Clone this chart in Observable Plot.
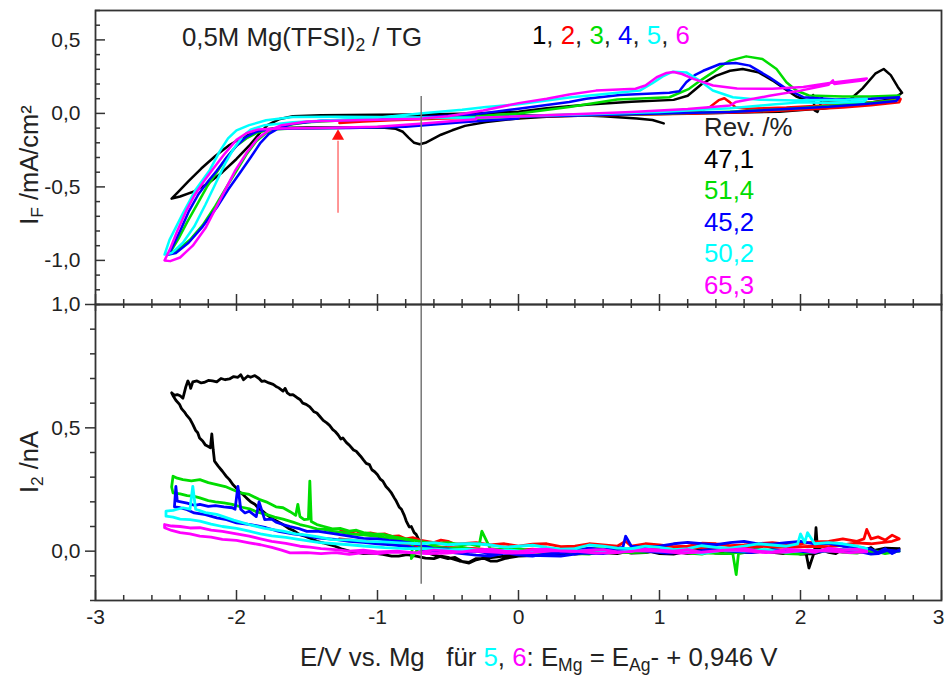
<!DOCTYPE html>
<html><head><meta charset="utf-8">
<script src="https://cdn.jsdelivr.net/npm/d3@7"></script>
<script src="https://cdn.jsdelivr.net/npm/@observablehq/plot@0.6"></script>
<style>
body{margin:0;background:#fff;}
#wrap{position:relative;width:945px;height:679px;overflow:hidden;font-family:Arial,"Liberation Sans",sans-serif;color:#222;}
#wrap svg{position:absolute;left:0;}
.t{position:absolute;white-space:nowrap;font-size:25.8px;line-height:1;}
.t sub{font-size:0.68em;vertical-align:-0.28em;line-height:0;}
.rot{transform:translate(-50%,-50%) rotate(-90deg);}
</style></head><body><div id="wrap"></div>
<script>
// ---------- series names / colours ----------
const seriesNames = ["1","2","3","4","5","6"];
const seriesColors = ["#000000","#ff0000","#00dd00","#0000ff","#00ffff","#ff00ff"];
const revLabels = ["47,1","51,4","45,2","50,2","65,3"];
const revColors = ["#000000","#00dd00","#0000ff","#00ffff","#ff00ff"];

// ---------- upper panel: I_F (mA/cm²) vs E (V) ----------
const cv1 = [[1.03,-0.068],[0.95,-0.045],[0.84,-0.034],[0.6,-0.02],[0.48,-0.015],[0.2,-0.022],[0.0,-0.034],[-0.23,-0.058],[-0.38,-0.085],[-0.47,-0.115],[-0.55,-0.145],[-0.61,-0.175],[-0.66,-0.2],[-0.7,-0.21],[-0.74,-0.2],[-0.78,-0.165],[-0.82,-0.125],[-0.87,-0.105],[-0.95,-0.098],[-1.2,-0.096],[-1.5,-0.096],[-1.7,-0.1],[-1.8,-0.11],[-1.88,-0.13],[-1.96,-0.165],[-2.05,-0.215],[-2.15,-0.29],[-2.25,-0.375],[-2.34,-0.46],[-2.42,-0.54],[-2.46,-0.58],
 [-2.4,-0.565],[-2.3,-0.53],[-2.2,-0.475],[-2.1,-0.4],[-2.0,-0.31],[-1.91,-0.22],[-1.84,-0.14],[-1.78,-0.08],[-1.7,-0.04],[-1.6,-0.02],[-1.4,-0.013],[-1.0,-0.01],[-0.7,-0.008],[-0.3,0.0],[0.0,0.012],[0.2,0.035],[0.5,0.06],[0.8,0.08],[1.1,0.092],[1.2,0.12],[1.3,0.2],[1.4,0.255],[1.5,0.29],[1.59,0.302],[1.7,0.28],[1.8,0.225],[1.9,0.16],[1.97,0.115],[2.04,0.09],[2.08,0.086],[2.09,0.125],[2.1,0.02],[2.12,0.01],[2.14,0.05],[2.15,0.11],[2.16,0.088],[2.2,0.088],[2.35,0.093],[2.44,0.17],[2.53,0.27],[2.59,0.302],[2.64,0.26],[2.69,0.18],[2.72,0.14],
 [2.66,0.1],[2.5,0.075],[2.3,0.05],[2.15,0.032],[2.1,0.03],[1.85,0.012],[1.4,0.003],[1.0,-0.004],[0.5,-0.01],[0.0,-0.014],[-0.5,-0.015],[-0.9,-0.015]];
const cv2 = [[-1.27,-0.065],[-1.1,-0.055],[-0.9,-0.047],[-0.7,-0.04],[-0.4,-0.032],[0.0,-0.022],[0.4,-0.01],[0.8,0.0],[1.2,0.012],[1.3,0.02],[1.36,0.045],[1.42,0.09],[1.46,0.103],[1.5,0.075],[1.54,0.04],[1.62,0.032],[1.9,0.04],[2.1,0.05],[2.4,0.068],[2.6,0.082],[2.71,0.098],
 [2.7,0.075],[2.5,0.055],[2.3,0.04],[2.0,0.025],[1.6,0.008],[1.2,-0.003],[0.8,-0.01],[0.3,-0.018],[-0.2,-0.028],[-0.7,-0.038],[-1.0,-0.045],[-1.27,-0.055]];
const cv3 = [[0.0,-0.03],[-0.5,-0.06],[-0.9,-0.09],[-1.3,-0.1],[-1.6,-0.102],[-1.76,-0.11],[-1.85,-0.13],[-1.93,-0.17],[-2.0,-0.22],[-2.07,-0.3],[-2.14,-0.4],[-2.21,-0.5],[-2.28,-0.62],[-2.35,-0.74],[-2.41,-0.85],[-2.46,-0.93],[-2.48,-0.95],
 [-2.42,-0.93],[-2.33,-0.86],[-2.24,-0.76],[-2.15,-0.63],[-2.07,-0.5],[-2.0,-0.39],[-1.93,-0.28],[-1.86,-0.19],[-1.8,-0.14],[-1.74,-0.11],[-1.65,-0.08],[-1.5,-0.06],[-1.2,-0.045],[-0.7,-0.035],[-0.3,-0.02],[0.0,0.0],[0.36,0.043],[0.7,0.095],[1.07,0.11],[1.21,0.167],[1.3,0.23],[1.378,0.279],[1.45,0.33],[1.5,0.359],[1.615,0.388],[1.73,0.37],[1.83,0.302],[1.9,0.212],[1.97,0.156],[2.06,0.122],[2.3,0.115],[2.5,0.115],[2.7,0.122],
 [2.68,0.09],[2.5,0.075],[2.2,0.05],[1.9,0.03],[1.5,0.012],[1.0,-0.002],[0.5,-0.012],[0.0,-0.02]];
const cv4 = [[0.0,-0.035],[-0.4,-0.06],[-0.8,-0.09],[-1.2,-0.1],[-1.6,-0.102],[-1.78,-0.108],[-1.86,-0.125],[-1.93,-0.16],[-2.0,-0.22],[-2.07,-0.3],[-2.14,-0.39],[-2.2,-0.46],[-2.27,-0.55],[-2.34,-0.67],[-2.4,-0.8],[-2.45,-0.9],[-2.48,-0.96],
 [-2.43,-0.95],[-2.34,-0.88],[-2.24,-0.77],[-2.14,-0.64],[-2.06,-0.52],[-1.98,-0.41],[-1.9,-0.3],[-1.83,-0.2],[-1.77,-0.14],[-1.7,-0.1],[-1.6,-0.07],[-1.4,-0.05],[-1.0,-0.04],[-0.7,-0.027],[-0.3,-0.005],[0.0,0.032],[0.36,0.077],[0.48,0.1],[0.72,0.125],[1.07,0.14],[1.14,0.15],[1.19,0.212],[1.25,0.26],[1.31,0.29],[1.43,0.336],[1.54,0.343],[1.64,0.325],[1.78,0.246],[1.9,0.167],[2.02,0.11],[2.25,0.095],[2.5,0.1],[2.7,0.11],
 [2.68,0.085],[2.5,0.068],[2.2,0.045],[1.9,0.03],[1.5,0.01],[1.0,0.0],[0.5,-0.012],[0.0,-0.022]];
const cv5 = [[-0.3,-0.03],[-0.7,-0.028],[-1.0,-0.025],[-1.3,-0.022],[-1.6,-0.025],[-1.79,-0.047],[-1.91,-0.08],[-2.0,-0.115],[-2.06,-0.17],[-2.12,-0.26],[-2.19,-0.386],[-2.29,-0.52],[-2.38,-0.68],[-2.475,-0.86],[-2.51,-0.96],
 [-2.46,-0.95],[-2.38,-0.88],[-2.3,-0.77],[-2.22,-0.62],[-2.15,-0.48],[-2.08,-0.34],[-2.02,-0.24],[-1.96,-0.16],[-1.9,-0.11],[-1.8,-0.08],[-1.6,-0.06],[-1.3,-0.045],[-1.0,-0.03],[-0.7,0.0],[-0.4,0.025],[-0.23,0.043],[0.0,0.062],[0.36,0.108],[0.72,0.142],[0.86,0.155],[0.95,0.205],[1.02,0.25],[1.094,0.284],[1.19,0.279],[1.284,0.223],[1.378,0.156],[1.52,0.11],[1.71,0.093],[1.97,0.088],[2.03,0.09],[2.32,0.093],[2.47,0.098],
 [2.45,0.08],[2.2,0.07],[2.0,0.075],[1.8,0.06],[1.5,0.035],[1.0,0.01],[0.5,-0.005],[0.0,-0.02],[-0.3,-0.03]];
const cv6 = [[-0.3,-0.04],[-0.7,-0.07],[-1.0,-0.09],[-1.4,-0.1],[-1.7,-0.103],[-1.85,-0.11],[-1.93,-0.135],[-2.0,-0.18],[-2.08,-0.27],[-2.16,-0.37],[-2.23,-0.46],[-2.3,-0.56],[-2.36,-0.67],[-2.42,-0.8],[-2.47,-0.92],[-2.51,-1.0],
 [-2.47,-1.005],[-2.4,-0.98],[-2.31,-0.9],[-2.22,-0.78],[-2.15,-0.65],[-2.08,-0.52],[-2.01,-0.39],[-1.93,-0.27],[-1.85,-0.17],[-1.77,-0.115],[-1.68,-0.08],[-1.5,-0.055],[-1.1,-0.045],[-0.7,-0.036],[-0.5,-0.02],[-0.25,0.02],[0.0,0.07],[0.2,0.1],[0.36,0.128],[0.55,0.155],[0.83,0.168],[0.9,0.19],[0.98,0.246],[1.05,0.275],[1.1,0.282],[1.16,0.268],[1.24,0.235],[1.38,0.19],[1.55,0.17],[1.8,0.167],[2.02,0.18],[2.23,0.21],[2.47,0.238],
 [2.45,0.225],[2.24,0.2],[2.23,0.225],[2.2,0.195],[2.0,0.155],[1.78,0.12],[1.54,0.077],[1.5,0.054],[1.2,0.03],[0.8,0.01],[0.3,-0.01],[-0.3,-0.03]];

// ---------- lower panel: I_2 (nA) vs E (V) ----------
const ring1 = [[2.7,0.01],[2.65,0.0],[2.6,0.005],[2.55,-0.008],[2.5,0.015],[2.45,0.002],[2.4,0.0],[2.35,0.01],[2.3,0.008],[2.25,-0.01],[2.2,-0.005],[2.12,0.01],[2.11,0.095],[2.1,0.0],[2.06,-0.068],[2.04,-0.01],[1.95,0.0],[1.88,-0.01],[1.8,-0.005],[1.7,0.006],[1.6,0.004],[1.5,-0.01],[1.4,-0.008],[1.3,0.004],[1.2,0.0],[1.1,-0.012],[1.0,-0.01],[0.9,0.003],[0.8,0.002],[0.7,-0.01],[0.6,-0.006],[0.5,0.004],[0.4,0.0],[0.3,-0.014],[0.2,-0.012],[0.1,-0.018],[0.0,-0.02],[-0.1,-0.03],[-0.15,-0.04],[-0.2,-0.04],[-0.25,-0.028],[-0.3,-0.035],[-0.35,-0.048],[-0.4,-0.042],[-0.45,-0.025],[-0.5,-0.03],[-0.6,-0.015],[-0.68,0.0],
 [-0.7,0.03],[-0.71,0.05],[-0.726,0.068],[-0.74,0.075],[-0.76,0.1],[-0.775,0.098],[-0.796,0.122],[-0.81,0.145],[-0.83,0.17],[-0.845,0.178],[-0.867,0.203],[-0.88,0.215],[-0.9,0.235],[-0.92,0.25],[-0.94,0.262],[-0.962,0.284],[-0.98,0.292],[-1.0,0.31],[-1.02,0.322],[-1.04,0.33],[-1.057,0.351],[-1.08,0.356],[-1.1,0.37],[-1.12,0.385],[-1.151,0.405],[-1.17,0.41],[-1.2,0.43],[-1.22,0.44],[-1.246,0.459],[-1.26,0.455],[-1.28,0.472],[-1.3,0.485],[-1.317,0.493],[-1.34,0.51],[-1.36,0.52],[-1.385,0.53],[-1.41,0.547],[-1.43,0.56],[-1.45,0.565],[-1.48,0.585],[-1.506,0.595],[-1.53,0.6],[-1.55,0.615],[-1.57,0.622],[-1.6,0.635],[-1.62,0.634],[-1.64,0.642],[-1.655,0.66],[-1.67,0.649],[-1.7,0.662],[-1.72,0.668],[-1.74,0.676],[-1.77,0.682],[-1.8,0.69],[-1.82,0.688],[-1.84,0.7],[-1.87,0.712],[-1.9,0.705],[-1.92,0.71],[-1.95,0.695],[-1.97,0.715],[-1.99,0.705],[-2.02,0.708],[-2.05,0.698],[-2.08,0.695],[-2.11,0.7],[-2.14,0.686],[-2.17,0.69],[-2.2,0.692],[-2.23,0.684],[-2.25,0.682],[-2.28,0.69],[-2.31,0.686],[-2.325,0.66],[-2.33,0.672],[-2.345,0.69],[-2.36,0.665],[-2.38,0.62],[-2.4,0.63],[-2.42,0.635],[-2.44,0.632],[-2.46,0.642],
 [-2.45,0.63],[-2.43,0.612],[-2.404,0.595],[-2.39,0.578],[-2.37,0.565],[-2.357,0.554],[-2.33,0.535],[-2.31,0.514],[-2.29,0.49],[-2.275,0.48],[-2.262,0.459],[-2.24,0.447],[-2.22,0.43],[-2.2,0.424],[-2.185,0.419],[-2.175,0.475],[-2.165,0.41],[-2.156,0.365],[-2.13,0.345],[-2.1,0.324],[-2.075,0.305],[-2.05,0.29],[-2.026,0.27],[-2.0,0.255],[-1.98,0.24],[-1.95,0.228],[-1.93,0.216],[-1.9,0.2],[-1.87,0.19],[-1.84,0.172],[-1.813,0.162],[-1.78,0.145],[-1.74,0.13],[-1.7,0.117],[-1.67,0.108],[-1.63,0.092],[-1.6,0.085],[-1.553,0.068],[-1.51,0.06],[-1.47,0.05],[-1.43,0.04],[-1.388,0.034],[-1.34,0.026],[-1.3,0.02],[-1.25,0.008],[-1.2,0.0],[-1.15,-0.004],[-1.1,-0.01],[-1.03,-0.008],[-0.962,-0.013],[-0.9,-0.02],[-0.85,-0.02],[-0.79,-0.014],[-0.726,-0.02],[-0.66,-0.028],[-0.6,-0.03],[-0.55,-0.02],[-0.5,-0.025],[-0.42,-0.04],[-0.35,-0.045],[-0.3,-0.03],[-0.25,-0.03],[-0.18,-0.025],[-0.1,-0.02],[0.0,-0.012],[0.1,-0.01],[0.2,-0.002],[0.3,0.0],[0.4,-0.012],[0.5,-0.008],[0.6,0.002],[0.7,0.004],[0.8,-0.008],[0.9,-0.006],[1.0,0.004],[1.1,0.0],[1.2,-0.01],[1.3,-0.004],[1.4,0.006],[1.5,0.005],[1.6,-0.006],[1.7,-0.003],[1.8,0.006],[1.9,0.002],[2.0,-0.012],[2.1,-0.01],[2.2,0.006],[2.3,0.004],[2.4,-0.004],[2.5,0.0],[2.6,0.012],[2.7,0.01]];
const ring2 = [[-1.27,0.09],[-1.23,0.078],[-1.2,0.075],[-1.15,0.082],[-1.1,0.07],[-1.05,0.074],[-1.0,0.068],[-0.95,0.07],[-0.9,0.06],[-0.85,0.062],[-0.8,0.05],[-0.75,0.055],[-0.7,0.045],[-0.65,0.04],[-0.6,0.035],[-0.55,0.045],[-0.5,0.04],[-0.45,0.028],[-0.4,0.03],[-0.3,0.035],[-0.2,0.025],[-0.1,0.03],[0.0,0.02],[0.1,0.028],[0.2,0.03],[0.3,0.018],[0.4,0.02],[0.5,0.03],[0.6,0.025],[0.7,0.02],[0.76,0.04],[0.8,0.02],[0.9,0.03],[1.0,0.025],[1.1,0.018],[1.2,0.02],[1.3,0.032],[1.4,0.03],[1.5,0.022],[1.6,0.025],[1.7,0.03],[1.8,0.035],[1.9,0.028],[2.0,0.03],[2.1,0.038],[2.2,0.04],[2.3,0.05],[2.4,0.04],[2.45,0.05],[2.47,0.088],[2.5,0.05],[2.55,0.058],[2.6,0.045],[2.65,0.065],[2.7,0.05],
 [2.65,0.04],[2.5,0.03],[2.4,0.034],[2.3,0.025],[2.2,0.018],[2.1,0.02],[1.9,0.015],[1.7,0.02],[1.5,0.01],[1.3,0.015],[1.1,0.005],[0.9,0.012],[0.7,0.005],[0.5,0.01],[0.3,0.0],[0.1,0.008],[-0.1,0.0],[-0.3,0.01],[-0.5,0.015],[-0.7,0.02],[-0.9,0.03],[-1.1,0.04],[-1.27,0.05]];
const ring3 = [[2.7,0.0],[2.6,-0.01],[2.5,0.005],[2.4,-0.008],[2.3,-0.005],[2.2,0.006],[2.1,0.0],[2.0,-0.012],[1.9,-0.01],[1.8,0.004],[1.7,0.005],[1.6,-0.006],[1.56,-0.01],[1.544,-0.095],[1.52,-0.01],[1.45,0.004],[1.4,0.0],[1.3,-0.012],[1.2,-0.008],[1.1,0.004],[1.0,0.0],[0.9,0.006],[0.8,0.012],[0.7,-0.004],[0.6,0.0],[0.5,-0.012],[0.4,-0.01],[0.3,0.002],[0.2,-0.005],[0.1,-0.012],[0.0,-0.01],[-0.1,0.004],[-0.2,0.01],[-0.26,0.081],[-0.28,0.02],[-0.35,0.03],[-0.4,0.025],[-0.5,0.035],[-0.6,0.03],[-0.7,0.04],
 [-0.8,0.05],[-0.88,0.058],[-0.96,0.068],[-1.03,0.07],[-1.1,0.075],[-1.15,0.085],[-1.2,0.081],[-1.26,0.092],[-1.32,0.09],[-1.38,0.1],[-1.43,0.108],[-1.47,0.12],[-1.48,0.284],[-1.49,0.13],[-1.52,0.128],[-1.55,0.14],[-1.565,0.19],[-1.58,0.145],[-1.62,0.16],[-1.67,0.176],[-1.72,0.18],[-1.79,0.2],[-1.84,0.21],[-1.91,0.23],[-1.97,0.236],[-2.03,0.25],[-2.08,0.262],[-2.14,0.27],[-2.2,0.278],[-2.26,0.29],[-2.32,0.285],[-2.38,0.29],[-2.42,0.296],[-2.45,0.304],[-2.46,0.26],
 [-2.45,0.236],[-2.4,0.232],[-2.35,0.225],[-2.3,0.222],[-2.26,0.216],[-2.2,0.205],[-2.15,0.2],[-2.09,0.196],[-2.03,0.19],[-1.96,0.178],[-1.9,0.17],[-1.85,0.158],[-1.79,0.149],[-1.73,0.138],[-1.67,0.13],[-1.6,0.118],[-1.55,0.108],[-1.49,0.1],[-1.43,0.09],[-1.38,0.088],[-1.32,0.081],[-1.26,0.077],[-1.2,0.07],[-1.1,0.066],[-1.0,0.06],[-0.92,0.052],[-0.85,0.05],[-0.75,0.035],[-0.76,-0.03],[-0.7,0.02],[-0.6,0.02],[-0.5,0.01],[-0.4,0.015],[-0.3,0.004],[-0.2,0.0],[-0.1,0.012],[0.0,0.01],[0.15,-0.004],[0.3,-0.005],[0.45,0.008],[0.6,0.01],[0.75,-0.006],[0.9,-0.005],[1.05,0.008],[1.2,0.005],[1.35,-0.008],[1.5,-0.01],[1.65,0.004],[1.8,0.0],[1.95,-0.01],[2.1,-0.005],[2.25,0.008],[2.4,0.005],[2.55,-0.006],[2.7,0.0]];
const ring4 = [[2.7,0.005],[2.65,-0.01],[2.6,0.01],[2.55,-0.005],[2.5,0.008],[2.4,0.016],[2.3,0.02],[2.2,0.032],[2.1,0.03],[2.0,0.04],[1.9,0.035],[1.8,0.028],[1.7,0.03],[1.6,0.04],[1.5,0.035],[1.4,0.026],[1.3,0.03],[1.2,0.036],[1.1,0.03],[1.0,0.02],[0.9,0.015],[0.8,0.02],[0.76,0.061],[0.74,0.015],[0.6,0.005],[0.5,0.012],[0.4,0.0],[0.3,-0.008],[0.2,-0.01],[0.1,-0.02],[0.0,-0.015],[-0.1,-0.006],[-0.2,-0.01],[-0.3,0.0],[-0.4,-0.005],[-0.5,0.008],[-0.6,0.01],[-0.7,0.026],[-0.84,0.04],[-0.92,0.044],[-1.0,0.05],[-1.1,0.052],[-1.2,0.061],[-1.3,0.07],[-1.43,0.081],[-1.5,0.08],[-1.55,0.09],[-1.62,0.1],[-1.67,0.108],[-1.72,0.118],[-1.75,0.13],[-1.8,0.128],[-1.84,0.2],[-1.86,0.14],[-1.91,0.162],[-1.94,0.155],[-1.97,0.17],[-1.99,0.263],[-2.01,0.17],[-2.03,0.176],[-2.09,0.18],[-2.15,0.185],[-2.2,0.182],[-2.26,0.19],[-2.3,0.186],[-2.35,0.195],[-2.42,0.203],[-2.43,0.263],[-2.44,0.18],
 [-2.4,0.176],[-2.35,0.168],[-2.3,0.155],[-2.22,0.148],[-2.14,0.135],[-2.07,0.128],[-2.0,0.115],[-1.9,0.108],[-1.79,0.095],[-1.7,0.08],[-1.6,0.07],[-1.52,0.064],[-1.43,0.054],[-1.3,0.048],[-1.2,0.04],[-1.1,0.036],[-1.0,0.03],[-0.9,0.026],[-0.8,0.02],[-0.7,0.008],[-0.6,0.0],[-0.5,-0.004],[-0.4,-0.01],[-0.3,-0.016],[-0.2,-0.02],[-0.1,-0.008],[0.0,-0.01],[0.15,-0.018],[0.3,-0.02],[0.45,-0.008],[0.6,-0.01],[0.75,0.004],[0.9,0.0],[1.05,-0.008],[1.2,-0.005],[1.35,0.006],[1.5,0.0],[1.65,-0.006],[1.8,0.005],[1.95,0.0],[2.1,-0.005],[2.25,0.006],[2.4,0.0],[2.5,-0.012],[2.55,-0.01],[2.62,0.004],[2.7,0.0]];
const ring5 = [[2.47,0.01],[2.4,0.02],[2.3,0.03],[2.2,0.035],[2.1,0.03],[2.05,0.075],[2.03,0.035],[2.0,0.07],[1.98,0.03],[1.9,0.02],[1.8,0.025],[1.7,0.03],[1.6,0.02],[1.5,0.012],[1.4,0.015],[1.3,0.022],[1.2,0.01],[1.1,0.006],[1.0,0.015],[0.9,0.02],[0.8,0.01],[0.7,0.012],[0.6,0.02],[0.5,0.025],[0.4,0.01],[0.3,0.008],[0.2,0.015],[0.1,0.024],[0.0,0.02],[-0.1,0.016],[-0.2,0.025],[-0.3,0.03],[-0.4,0.03],[-0.5,0.026],[-0.6,0.035],[-0.7,0.03],[-0.84,0.034],[-0.96,0.038],[-1.08,0.04],[-1.2,0.046],[-1.32,0.047],[-1.42,0.058],[-1.5,0.065],[-1.58,0.07],[-1.67,0.081],[-1.8,0.092],[-1.91,0.108],[-2.02,0.126],[-2.14,0.149],[-2.22,0.156],[-2.29,0.17],[-2.31,0.263],[-2.33,0.17],[-2.38,0.176],[-2.42,0.17],[-2.45,0.165],[-2.5,0.162],
 [-2.5,0.142],[-2.45,0.138],[-2.4,0.13],[-2.33,0.128],[-2.26,0.122],[-2.18,0.11],[-2.1,0.1],[-2.0,0.092],[-1.91,0.081],[-1.83,0.07],[-1.75,0.062],[-1.65,0.056],[-1.55,0.047],[-1.42,0.036],[-1.3,0.03],[-1.2,0.026],[-1.08,0.02],[-0.95,0.014],[-0.8,0.01],[-0.65,0.01],[-0.5,0.005],[-0.35,0.008],[-0.2,0.0],[-0.05,0.004],[0.1,-0.005],[0.25,0.006],[0.4,0.0],[0.55,0.004],[0.7,-0.005],[0.85,0.006],[1.0,0.0],[1.15,0.004],[1.3,-0.01],[1.45,0.004],[1.6,0.0],[1.75,0.006],[1.9,-0.005],[2.05,0.004],[2.2,0.0],[2.35,0.008],[2.47,0.005]];
const ring6 = [[2.47,0.0],[2.4,0.008],[2.3,0.005],[2.2,0.012],[2.1,-0.005],[2.0,0.004],[1.9,0.008],[1.8,-0.004],[1.7,0.0],[1.6,0.01],[1.5,0.005],[1.4,0.0],[1.3,-0.005],[1.2,0.006],[1.1,0.0],[1.0,0.004],[0.9,0.008],[0.8,-0.002],[0.7,-0.003],[0.6,0.006],[0.5,0.004],[0.4,-0.002],[0.3,0.0],[0.2,0.008],[0.1,0.006],[0.0,-0.002],[-0.1,0.0],[-0.2,0.008],[-0.3,0.005],[-0.4,-0.004],[-0.5,0.0],[-0.6,0.004],[-0.73,-0.007],[-0.86,0.0],[-1.0,-0.003],[-1.1,0.004],[-1.2,0.0],[-1.3,0.006],[-1.4,0.01],[-1.48,0.016],[-1.55,0.02],[-1.65,0.032],[-1.75,0.04],[-1.83,0.05],[-1.91,0.061],[-2.0,0.07],[-2.1,0.08],[-2.18,0.085],[-2.26,0.095],[-2.33,0.094],[-2.4,0.1],[-2.46,0.102],[-2.51,0.108],
 [-2.51,0.095],[-2.46,0.084],[-2.4,0.075],[-2.33,0.07],[-2.26,0.061],[-2.18,0.057],[-2.1,0.048],[-2.0,0.044],[-1.91,0.034],[-1.83,0.026],[-1.75,0.015],[-1.68,0.004],[-1.62,-0.007],[-1.5,-0.006],[-1.4,-0.01],[-1.3,-0.006],[-1.2,-0.013],[-1.1,-0.006],[-1.0,-0.01],[-0.9,-0.004],[-0.8,-0.005],[-0.65,-0.01],[-0.5,-0.008],[-0.35,0.0],[-0.2,-0.003],[-0.05,-0.008],[0.1,-0.006],[0.25,0.002],[0.4,0.0],[0.55,-0.008],[0.7,-0.006],[0.85,0.002],[1.0,0.0],[1.15,-0.008],[1.3,-0.004],[1.45,0.004],[1.6,0.002],[1.75,-0.006],[1.9,-0.004],[2.05,0.004],[2.2,0.0],[2.35,-0.006],[2.47,-0.003]];

// ---------- annotations ----------
const markerE = [-0.69];          // vertical reference line
const arrowE = [-1.28];           // red arrow (start of scan 2)
const xTicks = [-3,-2,-1,0,1,2,3];
const yTicksTop = [-1,-0.5,0,0.5];
const yTicksBottom = [0,0.5,1];

// ---------- build ----------
const toRows = curves => curves.flatMap((c,k) => c.map(([e,i]) => ({e, i, k: seriesNames[k]})));
const cvRows = toRows([cv1,cv2,cv3,cv4,cv5,cv6]);
const ringRows = toRows([ring1,ring2,ring3,ring4,ring5,ring6]);

const fmt = d => d3.format(".1f")(d).replace(".", ",").replace("\u2212", "-");
const xMinor = d3.range(-3, 3.0001, 0.2).map(v => +v.toFixed(2)).filter(v => Math.abs(v - Math.round(v)) > 1e-6);
const yMinorTop = d3.range(-1.3, 0.7001, 0.1).map(v => +v.toFixed(2)).filter(v => Math.abs(v*2 - Math.round(v*2)) > 1e-6);
const yMinorBottom = d3.range(-0.2, 1.0001, 0.1).map(v => +v.toFixed(2)).filter(v => Math.abs(v*2 - Math.round(v*2)) > 1e-6);

const W = 945, ML = 95, MR = 4;
const FW = W - ML - MR;
const font = 'Arial, "Liberation Sans", sans-serif';
const color = {type: "ordinal", domain: seriesNames, range: seriesColors};
const tickStyle = {stroke: "#333", strokeWidth: 1.5};

// upper
const topH = 305, topMT = 10, topMB = 1, topFH = topH - topMT - topMB;
const upper = Plot.plot({
  width: W, height: topH, marginLeft: ML, marginRight: MR, marginTop: topMT, marginBottom: topMB,
  style: {fontFamily: font, fontSize: "21px", color: "#222", background: "transparent", overflow: "visible"},
  x: {domain: [-3, 3], axis: null},
  y: {domain: [-1.3, 0.7], axis: null},
  color,
  marks: [
    Plot.line(cvRows, {x: "e", y: "i", z: "k", stroke: "k", strokeWidth: 2.5, strokeLinejoin: "round"}),
    Plot.ruleX(markerE, {x: d => d, y1: 0.115, y2: -1.3, stroke: "#777", strokeWidth: 1.5}),
    Plot.ruleX(arrowE, {x: d => d, y1: -0.68, y2: -0.19, stroke: "#ff5050", strokeWidth: 1.2}),
    Plot.dot(arrowE, {x: d => d, y: -0.155, symbol: "triangle", r: 4.5, fill: "#ff1010", stroke: null}),
    Plot.tickY(yTicksTop, {y: d => d, insetRight: FW - 10, ...tickStyle}),
    Plot.tickY(yMinorTop, {y: d => d, insetRight: FW - 5, ...tickStyle}),
    Plot.tickX(xTicks, {x: d => d, insetTop: topFH - 10, ...tickStyle}),
    Plot.tickX(xMinor, {x: d => d, insetTop: topFH - 5, ...tickStyle}),
    Plot.axisY({ticks: yTicksTop, tickSize: 0, tickPadding: 15, tickFormat: fmt, label: null}),
    Plot.frame({stroke: "#333", strokeWidth: 1.8})
  ]
});
upper.style.top = "0px";

// lower
const lowTop = 294, lowH = 385, lowMT = 10, lowMB = 79, lowFH = lowH - lowMT - lowMB;
const lower = Plot.plot({
  width: W, height: lowH, marginLeft: ML, marginRight: MR, marginTop: lowMT, marginBottom: lowMB,
  style: {fontFamily: font, fontSize: "21px", color: "#222", background: "transparent", overflow: "visible"},
  x: {domain: [-3, 3], axis: null},
  y: {domain: [-0.2, 1.0], axis: null},
  color,
  marks: [
    Plot.line(ringRows, {x: "e", y: "i", z: "k", stroke: "k", strokeWidth: 2.8, strokeLinejoin: "round"}),
    Plot.ruleX(markerE, {x: d => d, y1: 1.0, y2: -0.134, stroke: "#777", strokeWidth: 1.5}),
    Plot.tickX(xTicks, {x: d => d, insetTop: lowFH - 10, ...tickStyle}),
    Plot.tickX(xMinor, {x: d => d, insetTop: lowFH - 5, ...tickStyle}),
    Plot.tickX(xTicks, {x: d => d, insetBottom: lowFH - 7, ...tickStyle}),
    Plot.tickX(xMinor, {x: d => d, insetBottom: lowFH - 4, ...tickStyle}),
    Plot.axisY({ticks: yMinorBottom, tickSize: 5, tickFormat: () => "", label: null, stroke: "#333", strokeWidth: 1.5}),
    Plot.axisY({ticks: yTicksBottom, tickSize: 10, tickPadding: 5, tickFormat: fmt, label: null, stroke: "#333", strokeWidth: 1.5}),
    Plot.axisX({ticks: xTicks.slice(0, -1), tickSize: 0, tickPadding: 9, tickFormat: d => String(d), label: null}),
    Plot.axisX({ticks: xTicks.slice(-1), tickSize: 0, tickPadding: 9, tickFormat: d => String(d), label: null, textAnchor: "end", dx: 3}),
    Plot.frame({stroke: "#333", strokeWidth: 1.8})
  ]
});
lower.style.top = lowTop + "px";

const wrap = document.getElementById("wrap");
wrap.appendChild(upper);
wrap.appendChild(lower);

// ---------- text overlays ----------
function addText(html, css) {
  const d = document.createElement("div");
  d.className = "t";
  d.innerHTML = html;
  Object.assign(d.style, css);
  wrap.appendChild(d);
  return d;
}
addText("0,5M Mg(TFSI)<sub>2</sub> / TG", {left: "182px", top: "25px"});
addText(seriesNames.map((s,i) => `<span style="color:${seriesColors[i]}">${s}</span>`).join(", "), {left: "532px", top: "23px"});
addText("Rev. /%<br>" + revLabels.map((s,i) => `<span style="color:${revColors[i]}">${s}</span>`).join("<br>"),
  {left: "704px", top: "112px", lineHeight: "31.6px"});
addText("I<sub>F</sub> /mA/cm\u00B2", {left: "30px", top: "165px", fontSize: "25.5px"}).classList.add("rot");
addText("I<sub>2</sub> /nA", {left: "30px", top: "462px", fontSize: "25.5px"}).classList.add("rot");
addText(`E/V vs. Mg&nbsp;&nbsp; für <span style="color:${seriesColors[4]}">5</span>, <span style="color:${seriesColors[5]}">6</span>: E<sub>Mg</sub> = E<sub>Ag</sub>- + 0,946 V`,
  {left: "300px", top: "645px"});
</script></body></html>
